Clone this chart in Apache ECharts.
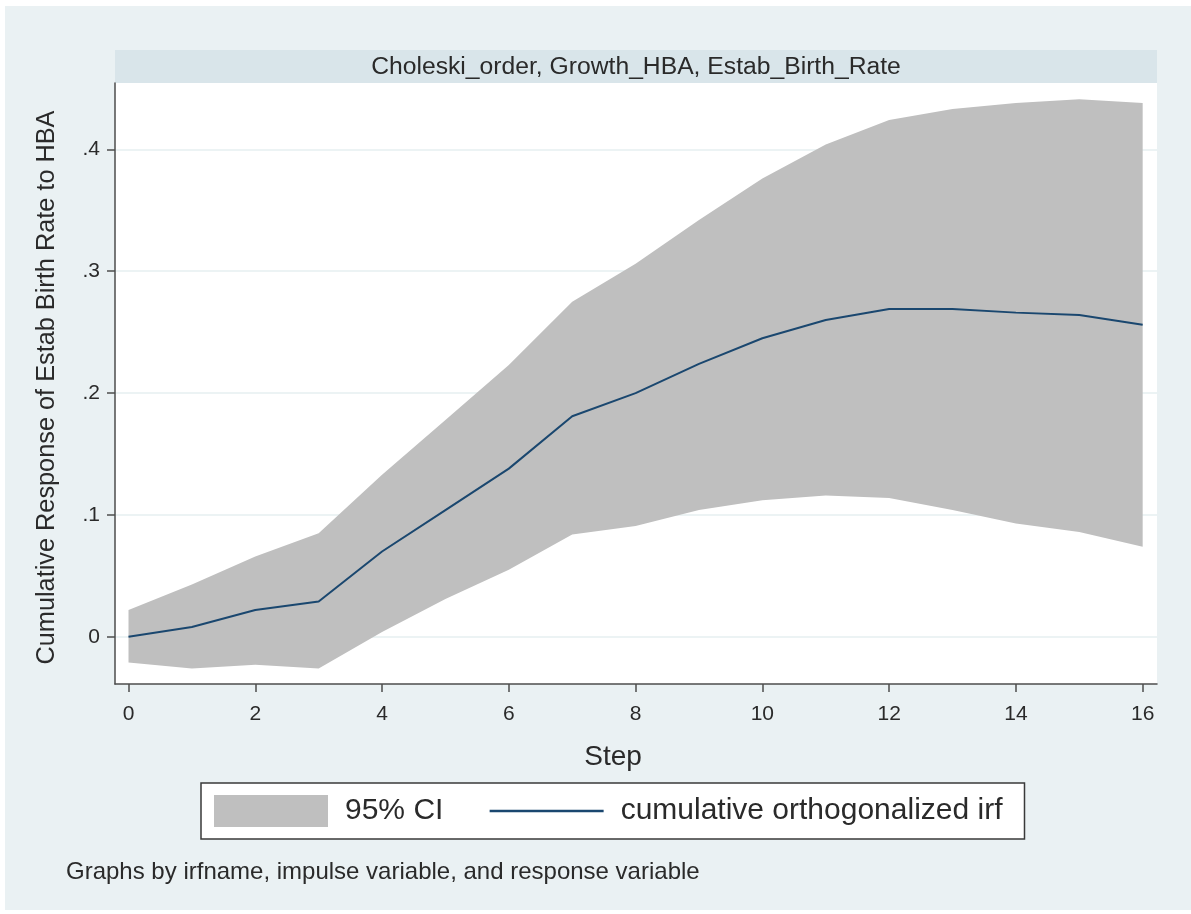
<!DOCTYPE html>
<html>
<head>
<meta charset="utf-8">
<script src="https://cdn.jsdelivr.net/npm/echarts@6/dist/echarts.min.js"></script>
<style>
html,body{margin:0;padding:0;background:#ffffff;}
#chart{width:1191px;height:914px;}
</style>
</head>
<body>
<div id="chart"></div>
<script>
// ---- data ----
const steps = [0,1,2,3,4,5,6,7,8,9,10,11,12,13,14,15,16];
const irf   = [0, 0.008, 0.022, 0.029, 0.070, 0.104, 0.138, 0.181, 0.200, 0.224, 0.245, 0.260, 0.269, 0.269, 0.266, 0.264, 0.256];
const ciUpper = [0.022, 0.043, 0.066, 0.085, 0.133, 0.178, 0.223, 0.275, 0.306, 0.342, 0.376, 0.404, 0.424, 0.433, 0.438, 0.441, 0.438];
const ciLower = [-0.021, -0.026, -0.023, -0.026, 0.004, 0.031, 0.055, 0.084, 0.091, 0.104, 0.112, 0.116, 0.114, 0.104, 0.093, 0.086, 0.074];
const xTicks = [0,2,4,6,8,10,12,14,16];
const yTicks = [0, 0.1, 0.2, 0.3, 0.4];
const yTickLabels = ['0', '.1', '.2', '.3', '.4'];
const panelTitle = 'Choleski_order, Growth_HBA, Estab_Birth_Rate';
const yTitle = 'Cumulative Response of Estab Birth Rate to HBA';
const xTitle = 'Step';
const ciName = '95% CI';
const irfName = 'cumulative orthogonalized irf';
const noteText = 'Graphs by irfname, impulse variable, and response variable';

// ---- build series data ----
const bandData = steps.map((s, i) => [s, ciLower[i], ciUpper[i]]);
const irfData = steps.map((s, i) => [s, irf[i]]);

const FONT = '"Liberation Sans", Arial, Helvetica, sans-serif';
const TXT = '#2a2a2a';
const AX = '#4d4d4d';
const BAND = '#bfbfbf';

const chart = echarts.init(document.getElementById('chart'), null, {renderer: 'canvas'});
chart.setOption({
  animation: false,
  textStyle: {fontFamily: FONT},
  graphic: [
    {type: 'rect', z: -10, silent: true, shape: {x: 5, y: 6, width: 1186, height: 904}, style: {fill: '#eaf1f3'}},
    {type: 'rect', z: -5, silent: true, shape: {x: 115, y: 50, width: 1042, height: 33}, style: {fill: '#d9e5ea'}},
    {type: 'text', z: 10, x: 636, y: 67, style: {text: panelTitle, fill: TXT, font: '24.7px ' + FONT, textAlign: 'center', textVerticalAlign: 'middle'}}
  ],
  title: {
    text: noteText, left: 61, top: 855,
    textStyle: {fontSize: 24, fontWeight: 'normal', color: TXT, fontFamily: FONT}
  },
  grid: {
    left: 115, top: 83, width: 1042, height: 601,
    show: true, backgroundColor: '#ffffff', borderWidth: 0
  },
  legend: {
    left: 201, top: 783,
    orient: 'horizontal',
    padding: [12, 22, 12, 13],
    itemWidth: 114, itemHeight: 32, itemGap: 45,
    backgroundColor: '#ffffff',
    borderColor: '#3a3a3a', borderWidth: 1.5,
    textStyle: {fontSize: 30, color: TXT, fontFamily: FONT, padding: [0, 0, 0, 12]},
    data: [
      {name: ciName, icon: 'rect', itemStyle: {color: BAND, borderWidth: 0}},
      {name: irfName, itemStyle: {opacity: 0}, lineStyle: {width: 2.5}}
    ],
    selectedMode: false
  },
  xAxis: {
    type: 'value', min: -0.213, max: 16.226,
    name: xTitle, nameLocation: 'middle', nameGap: 59,
    nameTextStyle: {fontSize: 28, color: TXT, fontFamily: FONT, padding: [0, 46, 0, 0]},
    axisLine: {show: true, onZero: false, lineStyle: {color: AX, width: 1.5}},
    axisTick: {show: true, customValues: xTicks, length: 8, inside: false, lineStyle: {color: AX, width: 1.5}},
    axisLabel: {customValues: xTicks, fontSize: 21, color: TXT, margin: 20, fontFamily: FONT},
    splitLine: {show: false}
  },
  yAxis: {
    type: 'value', min: -0.0387, max: 0.4544,
    name: yTitle, nameLocation: 'middle', nameGap: 55, nameRotate: 90,
    nameTextStyle: {fontSize: 25.3, color: TXT, fontFamily: FONT, padding: [0, 8, 0, 0]},
    axisLine: {show: true, onZero: false, lineStyle: {color: AX, width: 1.5}},
    axisTick: {show: true, customValues: yTicks, length: 8, inside: false, lineStyle: {color: AX, width: 1.5}},
    axisLabel: {
      customValues: yTicks, fontSize: 21, color: TXT, margin: 15, fontFamily: FONT,
      formatter: function (v) {
        const i = yTicks.findIndex(t => Math.abs(t - v) < 1e-9);
        return i >= 0 ? yTickLabels[i] : '';
      }
    },
    splitLine: {show: true, lineStyle: {color: '#e6eff1', width: 1.5}}
  },
  series: [
    {
      name: ciName, type: 'custom', data: bandData,
      encode: {x: 0, y: [1, 2]},
      itemStyle: {color: BAND},
      silent: true, z: 2,
      renderItem: function (params, api) {
        if (params.dataIndex !== 0) return null;
        const pts = [];
        for (let i = 0; i < steps.length; i++) pts.push(api.coord([steps[i], ciUpper[i]]));
        for (let i = steps.length - 1; i >= 0; i--) pts.push(api.coord([steps[i], ciLower[i]]));
        return {type: 'polygon', shape: {points: pts}, style: {fill: BAND, stroke: null}};
      }
    },
    {
      name: irfName, type: 'line', data: irfData,
      symbol: 'none', showSymbol: false, color: '#1a476f',
      lineStyle: {color: '#1a476f', width: 2}, z: 3
    }
  ]
});
</script>
</body>
</html>
